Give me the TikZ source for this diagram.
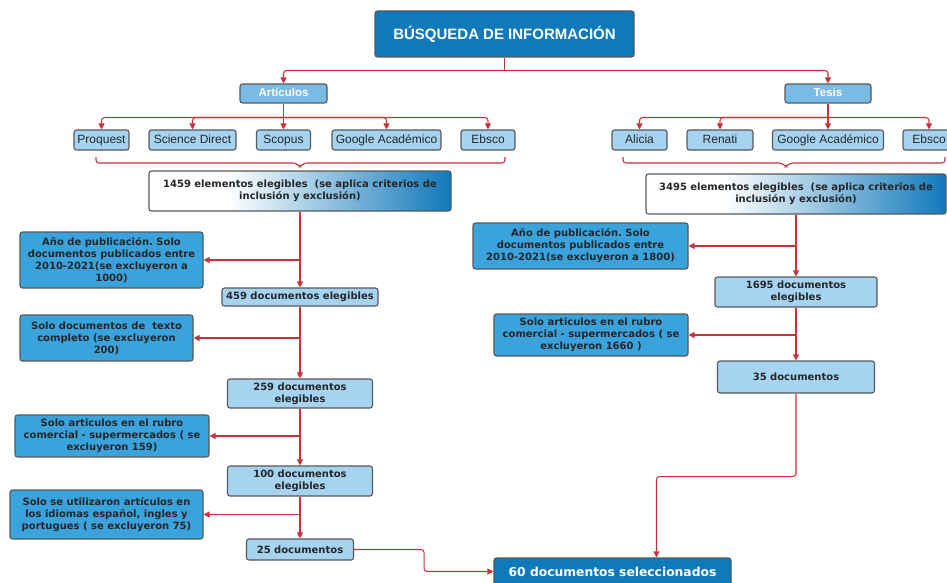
\documentclass[tikz,border=0pt]{standalone}
\usepackage{fontspec}
\setmainfont{Liberation Sans}
\newfontfamily\dv{DejaVu Sans}
\usetikzlibrary{arrows.meta,calc}
\frenchspacing
\definecolor{dkblue}{RGB}{16,121,186}
\definecolor{midblue}{RGB}{58,163,220}
\definecolor{lightblue}{RGB}{166,212,240}
\definecolor{artblue}{RGB}{122,187,230}
\definecolor{bordergray}{RGB}{85,88,92}
\definecolor{connred}{RGB}{198,50,62}
\definecolor{txtdark}{RGB}{36,38,42}
\pgfdeclarehorizontalshading{fadeblue}{100bp}{color(0bp)=(white); color(38bp)=(white); color(75bp)=(dkblue); color(100bp)=(dkblue)}
\tikzset{
  box/.style={draw=bordergray, line width=1.1pt, rounded corners=2.5pt, inner sep=0pt, align=center},
  titlebox/.style={box, fill=dkblue, text=white, font=\bfseries\fontsize{15}{17}\selectfont},
  catbox/.style={box, fill=artblue, text=white, font=\bfseries\fontsize{11.5}{13}\selectfont, minimum height=19pt, text height=8.5pt, text depth=2.5pt},
  src/.style={box, fill=lightblue, text=txtdark, font=\fontsize{12}{14}\selectfont, minimum height=20pt, text height=8.8pt, text depth=2.6pt},
  flow/.style={box, fill=lightblue, text=txtdark, font=\dv\bfseries\fontsize{10}{12}\selectfont},
  excl/.style={box, fill=midblue, text=txtdark, font=\dv\bfseries\fontsize{10}{12}\selectfont},
  gradbox/.style={box, shading=fadeblue, text=txtdark, font=\dv\bfseries\fontsize{10}{12}\selectfont},
  finalbox/.style={box, fill=dkblue, text=white, font=\dv\bfseries\fontsize{12.3}{14}\selectfont},
  conn/.style={draw=connred, line width=1.1pt, rounded corners=3pt},
  arr/.style={conn, -{Triangle[length=6pt,width=6pt]}}
}
\begin{document}
\begin{tikzpicture}[x=1pt,y=-1pt]
\useasboundingbox (0,0) rectangle (947,583);
\fill[white] (0,0) rectangle (947,583);

% top
\node[titlebox, minimum width=259pt, minimum height=46pt] (title) at (504.5,34) {BÚSQUEDA DE INFORMACIÓN};
\node[catbox, minimum width=87pt] (art) at (283.5,93.5) {Artículos};
\node[catbox, minimum width=86pt] (tes) at (828,93.5) {Tesis};

% sources
\node[src, minimum width=55pt] (p1) at (101.5,140) {Proquest};
\node[src, minimum width=87pt] (p2) at (192.5,140) {Science Direct};
\node[src, minimum width=54pt] (p3) at (283.5,140) {Scopus};
\node[src, minimum width=109pt] (p4) at (386.5,140) {Google Académico};
\node[src, minimum width=54pt] (p5) at (488,140) {Ebsco};
\node[src, minimum width=55pt] (t1) at (639.5,140) {Alicia};
\node[src, minimum width=66pt] (t2) at (720,140) {Renati};
\node[src, minimum width=111pt] (t3) at (828,140) {Google Académico};
\node[src, minimum width=52pt] (t4) at (929,140) {Ebsco};

% left column
\node[gradbox, minimum width=302pt, minimum height=40pt] (a1459) at (300,191) {1459 elementos elegibles\ \ (se aplica criterios de\\inclusión y exclusión)};
\node[excl, minimum width=183pt, minimum height=56pt] (la1) at (111.5,260) {Año de publicación. Solo\\documentos publicados entre\\2010-2021(se excluyeron a\\1000)};
\node[flow, minimum width=156pt, minimum height=18pt] (a459) at (300,297) {459 documentos elegibles};
\node[excl, minimum width=173pt, minimum height=46pt] (la2) at (106.5,338) {Solo documentos de\ \ texto\\completo (se excluyeron\\200)};
\node[flow, minimum width=145pt, minimum height=29pt] (a259) at (300,393.5) {259 documentos\\elegibles};
\node[excl, minimum width=194pt, minimum height=42pt] (la3) at (112,436) {Solo articulos en el rubro\\comercial - supermercados ( se\\excluyeron 159)};
\node[flow, minimum width=145pt, minimum height=30pt] (a100) at (300,481) {100 documentos\\elegibles};
\node[excl, minimum width=193pt, minimum height=49pt] (la4) at (106.5,514.5) {Solo se utilizaron artículos en\\los idiomas español, ingles y\\portugues ( se excluyeron 75)};
\node[flow, minimum width=107pt, minimum height=21pt] (a25) at (300,549.5) {25 documentos};

% right column
\node[gradbox, minimum width=300pt, minimum height=40pt] (b3495) at (796,194) {3495 elementos elegibles\ \ (se aplica criterios de\\inclusión y exclusión)};
\node[excl, minimum width=215pt, minimum height=46pt] (ra1) at (580.5,246) {Año de publicación. Solo\\documentos publicados entre\\2010-2021(se excluyeron a 1800)};
\node[flow, minimum width=162pt, minimum height=30pt] (b1695) at (796,292) {1695 documentos\\elegibles};
\node[excl, minimum width=194pt, minimum height=42pt] (ra2) at (591,335) {Solo articulos en el rubro\\comercial - supermercados ( se\\excluyeron 1660 )};
\node[flow, minimum width=157pt, minimum height=32pt] (b35) at (796,377) {35 documentos};

% final
\node[finalbox, minimum width=237pt, minimum height=27pt] (final) at (612.5,571.5) {60 documentos seleccionados};

% connectors top
\draw[conn] (title.south) -- ++(0,13) coordinate (tj);
\draw[arr] (tj) -| (art.north);
\draw[arr] (tj) -| (tes.north);
\draw[conn] (art.south) -- ++(0,14) coordinate (aj);
\foreach \n in {p1,p2,p4,p5} {\draw[arr] (aj) -| (\n.north);}
\draw[arr] (aj) -- (p3.north);
\draw[conn] (tes.south) -- ++(0,14) coordinate (tj2);
\foreach \n in {t1,t2,t4} {\draw[arr] (tj2) -| (\n.north);}
\draw[arr] (tj2) -- (t3.north);

% braces
\coordinate (lbA) at (96,157);
\coordinate (lbB) at (505,157);
\coordinate (rbA) at (623,157);
\coordinate (rbB) at (945,157);
\draw[conn] (lbA) -- (96,163) -- (296,163) -- (300,167) -- (304,163) -- (505,163) -- (lbB);
\draw[conn] (rbA) -- (623,163) -- (782,163) -- (786,167) -- (790,163) -- (945,163) -- (rbB);

% left flow
\draw[arr] (a1459.south) -- (a459.north);
\draw[arr] (a1459.south |- la1.east) -- (la1.east);
\draw[arr] (a459.south) -- (a259.north);
\draw[arr] (a459.south |- la2.east) -- (la2.east);
\draw[arr] (a259.south) -- (a100.north);
\draw[arr] (a259.south |- la3.east) -- (la3.east);
\draw[arr] (a100.south) -- (a25.north);
\draw[arr] (a100.south |- la4.east) -- (la4.east);
\draw[arr] (a25.east) -- ++(70,0) |- (final.west);

% right flow
\draw[arr] (b3495.south) -- (b1695.north);
\draw[arr] (b3495.south |- ra1.east) -- (ra1.east);
\draw[arr] (b1695.south) -- (b35.north);
\draw[arr] (b1695.south |- ra2.east) -- (ra2.east);
\coordinate (fintop) at ($(final.north west)+(163,0)$);
\draw[arr] (b35.south) -- ++(0,83) -| (fintop);
\end{tikzpicture}
\end{document}
